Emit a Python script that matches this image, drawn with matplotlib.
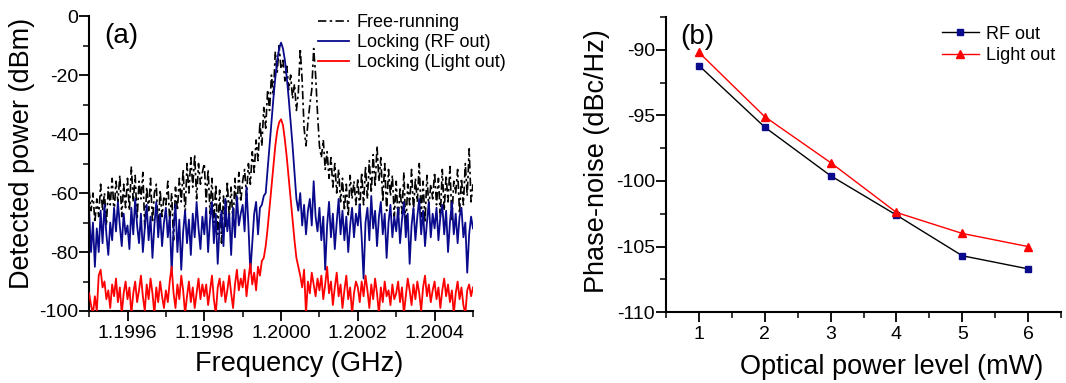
import numpy as np
import matplotlib
matplotlib.use("Agg")
import matplotlib.pyplot as plt
from matplotlib.ticker import MultipleLocator, FormatStrFormatter

plt.rcParams['font.family'] = ['Liberation Sans', 'DejaVu Sans']
plt.rcParams['axes.unicode_minus'] = False

# ---------------- Panel (a) data: spectra sampled every 5 kHz from 1.1995 GHz ----------------
f_start = 1.1995
f_step = 0.000005

free_running = (
    [-59, -66, -60, -70, -62, -68, -57, -66, -60, -71, -58, -64, -55, -67, -56, -63, -54, -68, -57, -65]
    + [-55, -66, -51, -63, -54, -69, -56, -62, -53, -72, -58, -66, -55, -70, -60, -57, -73, -59, -68, -61]
    + [-64, -56, -70, -60, -76, -58, -66, -55, -63, -52, -68, -50, -60, -48, -58, -47, -62, -50, -57, -53]
    + [-50, -63, -52, -67, -55, -70, -57, -74, -59, -77, -61, -72, -56, -68, -58, -71, -55, -66, -53, -63]
    + [-56, -52, -61, -50, -57, -46, -53, -42, -49, -36, -44, -31, -38, -25, -32, -20, -27, -12, -19, -10]
    + [-18, -15, -22, -17, -25, -20, -28, -23, -32, -26, -11, -22, -38, -44, -36, -30, -25, -11, -20, -33]
    + [-44, -48, -42, -52, -46, -55, -48, -58, -50, -60, -52, -63, -55, -66, -57, -68, -54, -62, -56, -64]
    + [-55, -66, -53, -64, -51, -62, -49, -60, -47, -58, -44, -56, -48, -63, -50, -66, -52, -61, -54, -68]
    + [-56, -70, -58, -67, -53, -72, -57, -64, -52, -66, -55, -63, -50, -68, -56, -70, -54, -65, -57, -62]
    + [-53, -64, -55, -68, -52, -66, -54, -63, -51, -69, -56, -60, -52, -67, -55, -64, -50, -61, -45, -63, -57]
)

locking_rf = (
    [-66, -80, -70, -85, -72, -80, -66, -77, -64, -74, -81, -70, -76, -65, -73, -63, -71, -78, -67, -74]
    + [-71, -79, -65, -74, -62, -71, -77, -67, -80, -72, -64, -76, -68, -82, -71, -63, -75, -67, -78, -70]
    + [-65, -75, -68, -87, -72, -64, -80, -69, -86, -73, -66, -77, -69, -81, -67, -75, -63, -72, -79, -68]
    + [-74, -65, -80, -69, -63, -77, -67, -84, -71, -66, -78, -62, -73, -67, -81, -65, -75, -61, -71, -67]
    + [-64, -73, -58, -71, -87, -77, -67, -63, -74, -65, -64, -61, -60, -52, -44, -36, -28, -21, -15, -11]
    + [-9, -11, -15, -21, -28, -36, -44, -53, -62, -66, -60, -71, -64, -74, -66, -62, -71, -56, -68, -73]
    + [-65, -76, -68, -86, -71, -63, -75, -67, -79, -70, -62, -74, -66, -76, -68, -80, -71, -65, -75, -67]
    + [-71, -64, -75, -89, -70, -65, -76, -61, -72, -66, -78, -68, -63, -74, -67, -82, -70, -64, -75, -68]
    + [-73, -65, -77, -69, -63, -75, -67, -84, -71, -65, -76, -68, -62, -74, -66, -78, -70, -63, -75, -67]
    + [-72, -65, -76, -68, -64, -74, -66, -80, -70, -63, -74, -67, -77, -68, -65, -75, -70, -87, -74, -68, -72]
)

locking_light = (
    [-94, -98, -101, -95, -100, -88, -86, -92, -90, -96, -93, -99, -91, -95, -89, -97, -92, -101, -94, -90]
    + [-96, -92, -101, -94, -90, -97, -93, -88, -95, -100, -91, -96, -89, -94, -101, -92, -97, -90, -95, -99]
    + [-93, -97, -90, -85, -94, -99, -91, -96, -88, -93, -101, -95, -90, -97, -92, -99, -94, -89, -96, -91]
    + [-95, -91, -98, -93, -88, -96, -101, -92, -89, -95, -90, -97, -93, -88, -94, -99, -91, -86, -93, -89]
    + [-92, -86, -95, -89, -84, -91, -87, -93, -85, -88, -83, -82, -78, -72, -65, -58, -51, -44, -39, -36]
    + [-35, -37, -42, -48, -55, -62, -69, -76, -82, -85, -88, -92, -86, -101, -90, -94, -87, -91, -95, -89]
    + [-93, -88, -96, -91, -85, -94, -90, -98, -92, -87, -95, -91, -99, -93, -88, -96, -92, -101, -94, -90]
    + [-92, -97, -90, -95, -88, -93, -99, -91, -96, -89, -94, -101, -92, -97, -90, -95, -93, -98, -91, -96]
    + [-94, -90, -97, -92, -101, -95, -89, -93, -98, -91, -96, -90, -94, -100, -92, -88, -95, -91, -97, -93]
    + [-90, -96, -92, -99, -93, -89, -95, -91, -97, -93, -101, -94, -90, -96, -92, -98, -101, -93, -91, -95, -92]
)

# ---------------- Panel (b) data ----------------
optical_power = [1, 2, 3, 4, 5, 6]
pn_rf_out = [-91.2, -95.9, -99.6, -102.6, -105.7, -106.7]
pn_light_out = [-90.2, -95.1, -98.6, -102.4, -104.0, -105.0]


def freq_axis(series):
    return f_start + f_step * np.arange(len(series))


fig = plt.figure(figsize=(10.66, 3.83), dpi=100)

NAVY = '#0a0a8c'
RED = '#ff0000'
TICK_FS = 14
LABEL_FS = 19.5

# ---------------- Panel (a) ----------------
ax1 = fig.add_axes([0.0836, 0.188, 0.3601, 0.770])
ax1.plot(freq_axis(free_running), free_running, color='black', lw=1.2,
         linestyle=(0, (5, 2, 1.5, 2)), label='Free-running', zorder=1)
ax1.plot(freq_axis(locking_rf), locking_rf, color=NAVY, lw=1.3,
         label='Locking (RF out)', zorder=2)
ax1.plot(freq_axis(locking_light), locking_light, color=RED, lw=1.3,
         label='Locking (Light out)', zorder=3)

ax1.set_xlim(1.1995, 1.2005)
ax1.set_ylim(-100, 0)
ax1.xaxis.set_minor_locator(MultipleLocator(0.0001))
ax1.set_xticks([1.1996, 1.1998, 1.2000, 1.2002, 1.2004])
ax1.xaxis.set_major_formatter(FormatStrFormatter('%.4f'))
ax1.yaxis.set_major_locator(MultipleLocator(20))
ax1.yaxis.set_minor_locator(MultipleLocator(10))
ax1.set_xlabel('Frequency (GHz)', fontsize=LABEL_FS)
ax1.set_ylabel('Detected power (dBm)', fontsize=LABEL_FS)
ax1.xaxis.set_label_coords(0.548, -0.135)
ax1.yaxis.set_label_coords(-0.14, 0.535)
ax1.text(0.04, 0.975, '(a)', transform=ax1.transAxes, fontsize=20,
         ha='left', va='top')
leg1 = ax1.legend(loc='upper left', bbox_to_anchor=(0.577, 1.03),
                  frameon=False, fontsize=13, handlelength=1.7,
                  handletextpad=0.45, labelspacing=0.15, borderaxespad=0.0)

# ---------------- Panel (b) ----------------
ax2 = fig.add_axes([0.6248, 0.185, 0.3705, 0.7706])
ax2.plot(optical_power, pn_rf_out, color='black', lw=1.0, marker='s',
         markersize=5, markerfacecolor=NAVY, markeredgecolor=NAVY, label='RF out')
ax2.plot(optical_power, pn_light_out, color=RED, lw=1.0, marker='^',
         markersize=6, markerfacecolor=RED, markeredgecolor=RED, label='Light out')
ax2.set_xlim(0.5, 6.5)
ax2.set_ylim(-110, -87.5)
ax2.xaxis.set_major_locator(MultipleLocator(1))
ax2.xaxis.set_minor_locator(MultipleLocator(0.5))
ax2.yaxis.set_major_locator(MultipleLocator(5))
ax2.yaxis.set_minor_locator(MultipleLocator(2.5))
ax2.set_xlabel('Optical power level (mW)', fontsize=LABEL_FS)
ax2.set_ylabel('Phase-noise (dBc/Hz)', fontsize=LABEL_FS)
ax2.xaxis.set_label_coords(0.572, -0.143)
ax2.yaxis.set_label_coords(-0.142, 0.51)
ax2.text(0.035, 0.975, '(b)', transform=ax2.transAxes, fontsize=20,
         ha='left', va='top')
leg2 = ax2.legend(loc='upper left', bbox_to_anchor=(0.68, 0.995),
                  frameon=False, fontsize=13, handlelength=2.05,
                  handletextpad=0.4, labelspacing=0.25, borderaxespad=0.0)

for ax in (ax1, ax2):
    for s in ('top', 'right'):
        ax.spines[s].set_visible(False)
    for s in ('left', 'bottom'):
        ax.spines[s].set_linewidth(1.5)
    ax.tick_params(which='major', direction='out', length=7, width=1.3,
                   labelsize=TICK_FS)
    ax.tick_params(which='minor', direction='out', length=4, width=1.1)
    ax.tick_params(axis='y', which='major', pad=1)
    ax.tick_params(axis='x', which='major', pad=3)

fig.savefig('out.png', dpi=100)
